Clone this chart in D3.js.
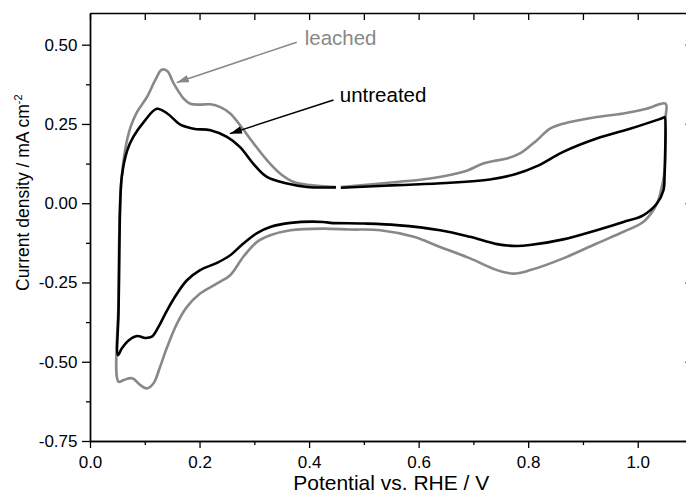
<!DOCTYPE html>
<html>
<head>
<meta charset="utf-8">
<script src="https://cdn.jsdelivr.net/npm/d3@7"></script>
<style>
  html, body { margin: 0; padding: 0; background: #fff; }
  svg { display: block; font-family: "Liberation Sans", Arial, sans-serif; }
</style>
</head>
<body>
<svg id="chart" width="686" height="495"></svg>
<script>
// CV loops: potential (V vs RHE) and current density (mA cm-2)
// each scan starts at ~0.46 V going anodic, turns at 1.05 V, back to 0.05 V and up again
var untreatedE = [0.458, 0.560, 0.651, 0.730, 0.779, 0.816, 0.864, 0.925, 0.986, 1.047, 1.049,
    1.050, 1.049, 1.047, 1.035, 1.010, 0.974, 0.925, 0.864, 0.803, 0.779, 0.743, 0.694, 0.639, 0.560,
    0.499, 0.439, 0.426, 0.366, 0.329, 0.305, 0.280, 0.256, 0.232, 0.201, 0.177, 0.159, 0.141, 0.125,
    0.113, 0.101, 0.086, 0.071, 0.058, 0.051,
    0.052, 0.053, 0.055, 0.058, 0.068, 0.079, 0.098, 0.122, 0.141, 0.165, 0.189, 0.220, 0.250, 0.274,
    0.298, 0.323, 0.360, 0.396, 0.449];
var untreatedJ = [0.049, 0.057, 0.064, 0.075, 0.093, 0.117, 0.162, 0.204, 0.235, 0.270, 0.272,
    0.146, 0.088, 0.041, -0.001, -0.038, -0.059, -0.085, -0.114, -0.132, -0.135, -0.129, -0.106, -0.085, -0.069,
    -0.064, -0.062, -0.059, -0.062, -0.075, -0.094, -0.127, -0.164, -0.188, -0.211, -0.243, -0.285, -0.337, -0.390,
    -0.421, -0.425, -0.419, -0.432, -0.458, -0.479,
    -0.350, -0.243, -0.013, 0.083, 0.167, 0.209, 0.256, 0.298, 0.283, 0.248, 0.235, 0.230, 0.209, 0.177,
    0.125, 0.083, 0.062, 0.051, 0.050];

var leachedE = [0.458, 0.560, 0.621, 0.682, 0.718, 0.737, 0.761, 0.785, 0.816, 0.840, 0.864, 0.925, 0.974, 1.016, 1.051,
    1.051, 1.0505, 1.048, 1.0425, 1.0375, 1.0285, 1.010, 0.974, 0.925, 0.864, 0.804, 0.773, 0.743, 0.694, 0.639,
    0.591, 0.530, 0.475, 0.426, 0.366, 0.329, 0.305, 0.280, 0.256, 0.232, 0.201, 0.177, 0.159, 0.141, 0.128,
    0.116, 0.104, 0.092, 0.077, 0.061, 0.052,
    0.052, 0.0535, 0.056, 0.064, 0.074, 0.086, 0.104, 0.119, 0.131, 0.141, 0.153, 0.171, 0.183, 0.201, 0.220,
    0.238, 0.256, 0.274, 0.299, 0.323, 0.347, 0.372, 0.402, 0.449];
var leachedJ = [0.051, 0.067, 0.078, 0.099, 0.125, 0.133, 0.141, 0.157, 0.199, 0.235, 0.251, 0.272, 0.283, 0.298, 0.314,
    0.272, 0.167, 0.088, 0.041, 0.009, -0.022, -0.059, -0.090, -0.127, -0.174, -0.211, -0.222, -0.211, -0.174, -0.138,
    -0.106, -0.085, -0.083, -0.080, -0.085, -0.101, -0.122, -0.169, -0.227, -0.253, -0.285, -0.327, -0.379, -0.453, -0.516,
    -0.568, -0.584, -0.574, -0.552, -0.558, -0.563,
    -0.306, -0.085, 0.041, 0.167, 0.240, 0.288, 0.335, 0.388, 0.421, 0.417, 0.377, 0.330, 0.314, 0.311, 0.312,
    0.303, 0.283, 0.246, 0.188, 0.136, 0.094, 0.067, 0.057, 0.051];

var xMajor = [0, 0.2, 0.4, 0.6, 0.8, 1.0];
var xMajorLabels = ['0.0', '0.2', '0.4', '0.6', '0.8', '1.0'];
var xMinor = [0.1, 0.3, 0.5, 0.7, 0.9];
var yMajor = [-0.75, -0.5, -0.25, 0, 0.25, 0.5];
var yMajorLabels = ['-0.75', '-0.50', '-0.25', '0.00', '0.25', '0.50'];
var yMinor = [-0.625, -0.375, -0.125, 0.125, 0.375];

var svg = d3.select('#chart');

var x = d3.scaleLinear().domain([0, 1.1]).range([90, 692.5]);
var y = d3.scaleLinear().domain([-0.75, 0.6]).range([441, 13]);

var toPoints = function(es, js) {
    return es.map(function(e, i) { return [e, js[i]]; });
};

var line = d3.line()
    .x(function(d) { return x(d[0]); })
    .y(function(d) { return y(d[1]); })
    .curve(d3.curveCatmullRom.alpha(0.5));

var styleAxis = function(g) {
    g.select('.domain').attr('stroke', '#000').attr('stroke-width', 1.4);
    g.selectAll('.tick line').attr('stroke', '#000').attr('stroke-width', 1.3);
    g.selectAll('.tick text').attr('fill', '#000')
        .style('font-family', '"Liberation Sans", Arial, sans-serif')
        .style('font-size', '17px');
};

// bottom
svg.append('g')
    .attr('transform', 'translate(0,441)')
    .call(d3.axisBottom(x).tickValues(xMinor).tickSize(4).tickSizeOuter(0).tickFormat(''))
    .call(styleAxis);
svg.append('g')
    .attr('transform', 'translate(0,441)')
    .call(d3.axisBottom(x).tickValues(xMajor).tickSize(7).tickSizeOuter(0).tickPadding(8)
        .tickFormat(function(d, i) { return xMajorLabels[i]; }))
    .call(styleAxis);

// top, ticks inward
svg.append('g')
    .attr('transform', 'translate(0,13)')
    .call(d3.axisBottom(x).tickValues(xMajor.concat(xMinor)).tickSize(7).tickSizeOuter(0).tickFormat(''))
    .call(styleAxis);

// left
svg.append('g')
    .attr('transform', 'translate(90,0)')
    .call(d3.axisLeft(y).tickValues(yMinor).tickSize(4).tickSizeOuter(0).tickFormat(''))
    .call(styleAxis);
svg.append('g')
    .attr('transform', 'translate(90,0)')
    .call(d3.axisLeft(y).tickValues(yMajor).tickSize(8).tickSizeOuter(0).tickPadding(4.5)
        .tickFormat(function(d, i) { return yMajorLabels[i]; }))
    .call(styleAxis);

// right, ticks inward
svg.append('g')
    .attr('transform', 'translate(' + x(1.1) + ',0)')
    .call(d3.axisLeft(y).tickValues(yMajor).tickSize(7).tickSizeOuter(0).tickFormat(''))
    .call(styleAxis);

// curves
svg.append('path')
    .datum(toPoints(leachedE, leachedJ))
    .attr('d', line)
    .attr('fill', 'none')
    .attr('stroke', '#888')
    .attr('stroke-width', 2.6)
    .attr('stroke-linejoin', 'round');

svg.append('path')
    .datum(toPoints(untreatedE, untreatedJ))
    .attr('d', line)
    .attr('fill', 'none')
    .attr('stroke', '#000')
    .attr('stroke-width', 2.6)
    .attr('stroke-linejoin', 'round');

// annotations with arrows
var notes = [
    {text: 'leached', color: '#888', tx: 0.392, ty: 0.499, from: [0.3775, 0.508], to: [0.1585, 0.381]},
    {text: 'untreated', color: '#000', tx: 0.456, ty: 0.319, from: [0.4445, 0.3255], to: [0.2555, 0.2195]}
];

var defs = svg.append('defs');
notes.forEach(function(n, i) {
    defs.append('marker')
        .attr('id', 'arrow' + i)
        .attr('markerUnits', 'userSpaceOnUse')
        .attr('markerWidth', 14)
        .attr('markerHeight', 10)
        .attr('viewBox', '0 -5 14 10')
        .attr('refX', 12)
        .attr('refY', 0)
        .attr('orient', 'auto')
        .append('path')
        .attr('d', 'M0,-3.8L12,0L0,3.8Z')
        .attr('fill', n.color);

    svg.append('line')
        .attr('x1', x(n.from[0]))
        .attr('y1', y(n.from[1]))
        .attr('x2', x(n.to[0]))
        .attr('y2', y(n.to[1]))
        .attr('stroke', n.color)
        .attr('stroke-width', 1.5)
        .attr('marker-end', 'url(#arrow' + i + ')');

    svg.append('text')
        .attr('x', x(n.tx))
        .attr('y', y(n.ty))
        .attr('fill', n.color)
        .style('font-size', '20.5px')
        .text(n.text);
});

// axis titles
svg.append('text')
    .attr('x', (x(0) + x(1.1)) / 2)
    .attr('y', 490)
    .attr('text-anchor', 'middle')
    .style('font-size', '21px')
    .text('Potential vs. RHE / V');

var yTitle = svg.append('text')
    .attr('transform', 'translate(29,291) rotate(-90)')
    .style('font-size', '17.5px');
yTitle.append('tspan').text('Current density / mA cm');
yTitle.append('tspan').attr('dy', -7).style('font-size', '11px').text('-2');
</script>
</body>
</html>
